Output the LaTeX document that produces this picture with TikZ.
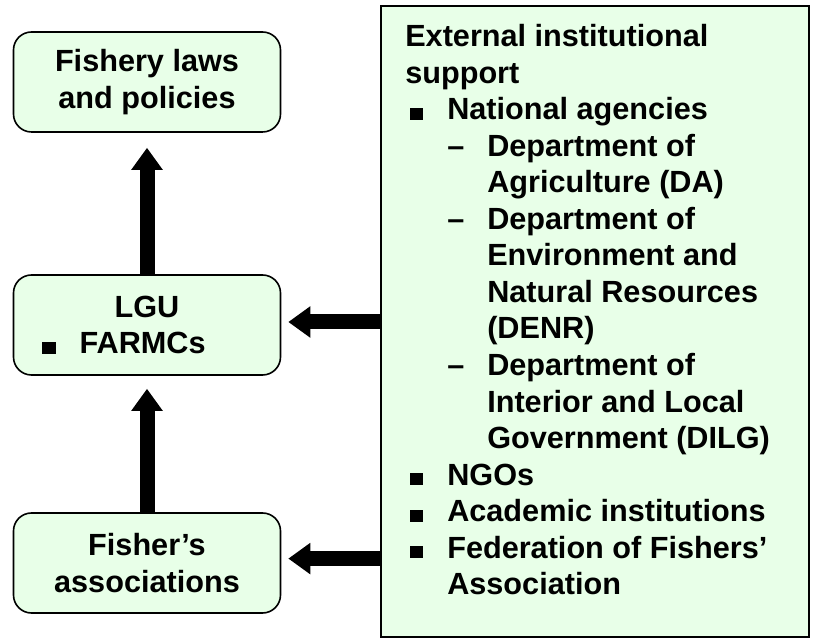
\documentclass[tikz,border=0pt]{standalone}
\usepackage{fontspec}
\setmainfont{Liberation Sans}
\usetikzlibrary{arrows.meta,positioning}

\definecolor{boxgreen}{RGB}{232,255,232}
\newcommand{\sqbullet}{\rule{3.3mm}{3mm}}
\newcommand{\itm}{\makebox[10.5mm][l]{\hspace{1.25mm}\sqbullet}}
\newcommand{\itmcont}{\hspace*{10.5mm}}
\newcommand{\subitm}{\makebox[20.5mm][l]{\hspace{10.5mm}--}}
\newcommand{\subcont}{\hspace*{20.5mm}}

\begin{document}
\begin{tikzpicture}[x=0.25mm, y=-0.25mm,
  font=\bfseries\fontsize{21.8}{26}\selectfont,
  stagebox/.style={draw=black, line width=0.4mm, fill=boxgreen, rounded corners=4.5mm,
    minimum width=66.75mm, minimum height=25mm, align=center, inner sep=0pt},
  bigarrow/.style={line width=3.75mm, -{Triangle[width=7.5mm,length=5.5mm]}}]
\useasboundingbox (0,0) rectangle (815,639);

% Left column
\node[stagebox] (laws) at (147,82) {Fishery laws\\and policies};
\node[stagebox] (lgu) at (147,325) {LGU\\\sqbullet\hspace{6mm}FARMCs\hspace{11.5mm}\null};
\node[stagebox] (fisher) at (147,563) {Fisher's\\associations};

% Right box
\node[draw=black, line width=0.4mm, fill=boxgreen, anchor=north west, inner sep=0pt,
  minimum width=107mm, minimum height=157.75mm] (ext) at (380,5) {};
\node[anchor=north west, align=left, inner sep=0pt] (extlist) at (405,24) {%
  External institutional\\
  support\\
  \itm National agencies\\
  \subitm Department of\\
  \subcont Agriculture (DA)\\
  \subitm Department of\\
  \subcont Environment and\\
  \subcont Natural Resources\\
  \subcont (DENR)\\
  \subitm Department of\\
  \subcont Interior and Local\\
  \subcont Government (DILG)\\
  \itm NGOs\\
  \itm Academic institutions\\
  \itm Federation of Fishers'\\
  \itmcont Association};

% Arrows
\draw[bigarrow, shorten >=3.75mm] (lgu.north) -- (laws.south);
\draw[bigarrow, shorten >=3.25mm] (fisher.north) -- (lgu.south);
\draw[bigarrow, shorten >=1.75mm] ([yshift=0.75mm]ext.west |- lgu.east) -- ([yshift=0.75mm]lgu.east);
\draw[bigarrow, shorten >=1.75mm] ([yshift=1.1mm]ext.west |- fisher.east) -- ([yshift=1.1mm]fisher.east);
\end{tikzpicture}
\end{document}
